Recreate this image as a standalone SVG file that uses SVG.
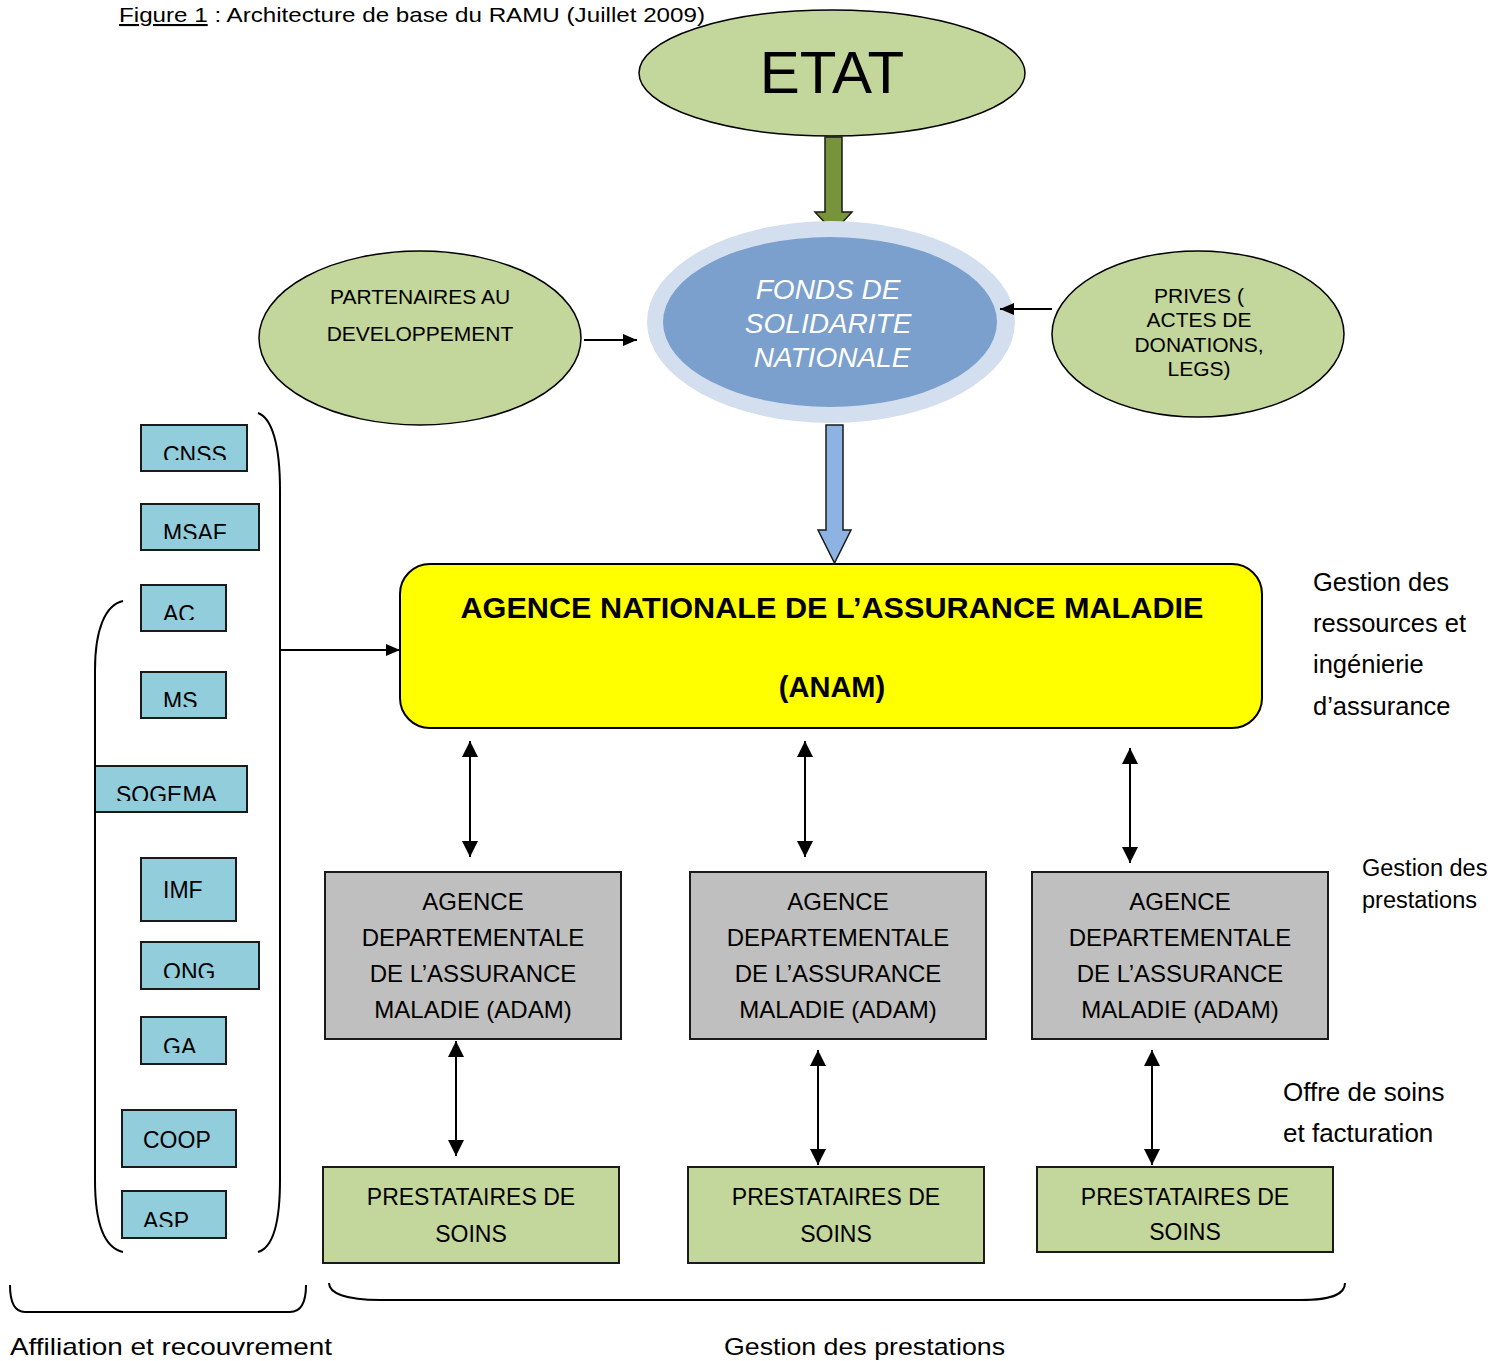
<svg xmlns="http://www.w3.org/2000/svg" width="1496" height="1361" viewBox="0 0 1496 1361">
<style>
.sans{font-family:"Liberation Sans",Arial,sans-serif;}
.lbl{font-family:"Liberation Sans",Arial,sans-serif;font-size:23px;fill:#000;}
.adl{font-family:"Liberation Sans",Arial,sans-serif;font-size:24px;fill:#000;}
.small{font-family:"Liberation Sans",Arial,sans-serif;font-size:21px;fill:#000;}
.box{fill:#92CDDC;stroke:#1a1a1a;stroke-width:2;}
.adam{fill:#BFBFBF;stroke:#1a1a1a;stroke-width:2;}
.prest{fill:#C3D69B;stroke:#1a1a1a;stroke-width:2;}
.ell{fill:#C3D69B;stroke:#000;stroke-width:1.5;}
.conn{fill:none;stroke:#000;stroke-width:2;}
.brace{fill:none;stroke:#000;stroke-width:2;}
</style>
<defs>
<marker id="ah" viewBox="0 0 16 16" refX="16" refY="8" markerWidth="16" markerHeight="16" markerUnits="userSpaceOnUse" orient="auto-start-reverse">
<path d="M0,0 L16,8 L0,16 z" fill="#000"/>
</marker>
<marker id="ahs" viewBox="0 0 14 12" refX="14" refY="6" markerWidth="14" markerHeight="12" markerUnits="userSpaceOnUse" orient="auto-start-reverse">
<path d="M0,0 L14,6 L0,12 z" fill="#000"/>
</marker>
<mask id="ringMask" maskUnits="userSpaceOnUse" x="0" y="0" width="1496" height="1361">
<rect x="0" y="0" width="1496" height="1361" fill="#fff"/>
<ellipse cx="831" cy="322" rx="184" ry="101" fill="#000"/>
</mask>
<clipPath id="cCNSS"><rect x="141" y="425" width="106" height="35"/></clipPath>
<clipPath id="cMSAF"><rect x="141" y="504" width="118" height="35"/></clipPath>
<clipPath id="cAC"><rect x="141" y="585" width="85" height="35"/></clipPath>
<clipPath id="cMS"><rect x="141" y="672" width="85" height="35"/></clipPath>
<clipPath id="cSOG"><rect x="95" y="766" width="152" height="35"/></clipPath>
<clipPath id="cONG"><rect x="141" y="942" width="118" height="36"/></clipPath>
<clipPath id="cGA"><rect x="141" y="1017" width="85" height="36"/></clipPath>
<clipPath id="cASP"><rect x="122" y="1191" width="104" height="36"/></clipPath>
</defs>
<rect width="1496" height="1361" fill="#fff"/>

<g id="title">
<text class="sans" x="119" y="22" font-size="21" textLength="586" lengthAdjust="spacingAndGlyphs"><tspan text-decoration="underline">Figure 1</tspan> : Architecture de base du RAMU (Juillet 2009)</text>
</g>

<g id="etat">
<ellipse class="ell" cx="832" cy="73" rx="193" ry="63"/>
<text class="sans" x="832" y="93" font-size="60" text-anchor="middle">ETAT</text>
</g>

<g id="fonds">
<ellipse cx="831" cy="322" rx="184" ry="101" fill="#D3DFEE"/>
<ellipse cx="830" cy="322" rx="167" ry="85" fill="#7BA0CD"/>
<text class="sans" font-size="28" font-style="italic" fill="#fff" text-anchor="middle">
<tspan x="832" y="299">FONDS DE</tspan>
<tspan x="832" y="333">SOLIDARITE</tspan>
<tspan x="832" y="367">NATIONALE</tspan>
</text>
</g>

<g id="partenaires">
<ellipse class="ell" cx="420" cy="338" rx="161" ry="87"/>
<text class="small" text-anchor="middle"><tspan x="420" y="304">PARTENAIRES AU</tspan><tspan x="420" y="341">DEVELOPPEMENT</tspan></text>
</g>

<g id="prives">
<ellipse class="ell" cx="1198" cy="334" rx="146" ry="83"/>
<text class="small" text-anchor="middle"><tspan x="1199" y="303">PRIVES (</tspan><tspan x="1199" y="327">ACTES DE</tspan><tspan x="1199" y="352">DONATIONS,</tspan><tspan x="1199" y="376">LEGS)</tspan></text>
</g>

<g id="anam">
<rect x="400" y="564" width="862" height="164" rx="30" ry="30" fill="#FFFF00" stroke="#000" stroke-width="2"/>
<text class="sans" x="832" y="618" font-size="29" font-weight="bold" text-anchor="middle" textLength="743" lengthAdjust="spacingAndGlyphs">AGENCE NATIONALE DE L’ASSURANCE MALADIE</text>
<text class="sans" x="832" y="697" font-size="29" font-weight="bold" text-anchor="middle">(ANAM)</text>
</g>

<g id="label-ressources">
<text class="sans" font-size="25.5"><tspan x="1313" y="591">Gestion des</tspan><tspan x="1313" y="632">ressources et</tspan><tspan x="1313" y="673">ingénierie</tspan><tspan x="1313" y="715">d’assurance</tspan></text>
</g>
<g id="label-gestion">
<text class="sans" font-size="23.5"><tspan x="1362" y="876">Gestion des</tspan><tspan x="1362" y="908">prestations</tspan></text>
</g>
<g id="label-offre">
<text class="sans" font-size="26"><tspan x="1283" y="1101">Offre de soins</tspan><tspan x="1283" y="1142">et facturation</tspan></text>
</g>

<g id="adam1">
<rect class="adam" x="325" y="872" width="296" height="167"/>
<text class="adl" text-anchor="middle"><tspan x="473" y="910">AGENCE</tspan><tspan x="473" y="946">DEPARTEMENTALE</tspan><tspan x="473" y="982">DE L’ASSURANCE</tspan><tspan x="473" y="1018">MALADIE (ADAM)</tspan></text>
</g>
<g id="adam2">
<rect class="adam" x="690" y="872" width="296" height="167"/>
<text class="adl" text-anchor="middle"><tspan x="838" y="910">AGENCE</tspan><tspan x="838" y="946">DEPARTEMENTALE</tspan><tspan x="838" y="982">DE L’ASSURANCE</tspan><tspan x="838" y="1018">MALADIE (ADAM)</tspan></text>
</g>
<g id="adam3">
<rect class="adam" x="1032" y="872" width="296" height="167"/>
<text class="adl" text-anchor="middle"><tspan x="1180" y="910">AGENCE</tspan><tspan x="1180" y="946">DEPARTEMENTALE</tspan><tspan x="1180" y="982">DE L’ASSURANCE</tspan><tspan x="1180" y="1018">MALADIE (ADAM)</tspan></text>
</g>

<g id="prest1">
<rect class="prest" x="323" y="1167" width="296" height="96"/>
<text class="lbl" text-anchor="middle"><tspan x="471" y="1205">PRESTATAIRES DE</tspan><tspan x="471" y="1242">SOINS</tspan></text>
</g>
<g id="prest2">
<rect class="prest" x="688" y="1167" width="296" height="96"/>
<text class="lbl" text-anchor="middle"><tspan x="836" y="1205">PRESTATAIRES DE</tspan><tspan x="836" y="1242">SOINS</tspan></text>
</g>
<g id="prest3">
<rect class="prest" x="1037" y="1167" width="296" height="85"/>
<text class="lbl" text-anchor="middle"><tspan x="1185" y="1205">PRESTATAIRES DE</tspan><tspan x="1185" y="1240">SOINS</tspan></text>
</g>

<g id="cnss"><rect class="box" x="141" y="425" width="106" height="46"/><text class="lbl" x="163" y="463" clip-path="url(#cCNSS)">CNSS</text></g>
<g id="msaf"><rect class="box" x="141" y="504" width="118" height="46"/><text class="lbl" x="163" y="541" clip-path="url(#cMSAF)">MSAF</text></g>
<g id="ac"><rect class="box" x="141" y="585" width="85" height="46"/><text class="lbl" x="163" y="622" clip-path="url(#cAC)">AC</text></g>
<g id="ms"><rect class="box" x="141" y="672" width="85" height="46"/><text class="lbl" x="163" y="709" clip-path="url(#cMS)">MS</text></g>
<g id="sogema"><rect class="box" x="95" y="766" width="152" height="46"/><text class="lbl" x="116" y="803" clip-path="url(#cSOG)">SOGEMA</text></g>
<g id="imf"><rect class="box" x="141" y="858" width="95" height="63"/><text class="lbl" x="163" y="898">IMF</text></g>
<g id="ong"><rect class="box" x="141" y="942" width="118" height="47"/><text class="lbl" x="163" y="980" clip-path="url(#cONG)">ONG</text></g>
<g id="ga"><rect class="box" x="141" y="1017" width="85" height="47"/><text class="lbl" x="163" y="1055" clip-path="url(#cGA)">GA</text></g>
<g id="coop"><rect class="box" x="122" y="1110" width="114" height="57"/><text class="lbl" x="143" y="1148">COOP</text></g>
<g id="asp"><rect class="box" x="122" y="1191" width="104" height="47"/><text class="lbl" x="143" y="1229" clip-path="url(#cASP)">ASP</text></g>

<g id="connectors">
<polygon points="825,137 842,137 842,212 852,212 833.5,232 815,212 825,212" fill="#77933C" stroke="#1a1a1a" stroke-width="1.5" mask="url(#ringMask)"/>
<polygon points="826,425 843,425 843,530 851,530 834.5,563 818,530 826,530" fill="#8DB3E2" stroke="#1a1a1a" stroke-width="1.5"/>
<line class="conn" x1="584" y1="340" x2="637" y2="340" marker-end="url(#ahs)"/>
<line class="conn" x1="1052" y1="309" x2="1000" y2="309" marker-end="url(#ahs)"/>
<line class="conn" x1="280" y1="650" x2="400" y2="650" marker-end="url(#ahs)"/>
<line class="conn" x1="470" y1="741" x2="470" y2="857" marker-start="url(#ah)" marker-end="url(#ah)"/>
<line class="conn" x1="805" y1="741" x2="805" y2="857" marker-start="url(#ah)" marker-end="url(#ah)"/>
<line class="conn" x1="1130" y1="748" x2="1130" y2="863" marker-start="url(#ah)" marker-end="url(#ah)"/>
<line class="conn" x1="456" y1="1041" x2="456" y2="1156" marker-start="url(#ah)" marker-end="url(#ah)"/>
<line class="conn" x1="818" y1="1050" x2="818" y2="1165" marker-start="url(#ah)" marker-end="url(#ah)"/>
<line class="conn" x1="1152" y1="1050" x2="1152" y2="1165" marker-start="url(#ah)" marker-end="url(#ah)"/>
</g>

<g id="braces">
<path class="brace" d="M258,413 C272,418 280,445 280,490 L280,1180 C280,1225 272,1248 258,1252"/>
<path class="brace" d="M123,601 C105,605 95,630 95,670 L95,1180 C95,1225 105,1248 123,1252"/>
<path class="brace" d="M10,1285 C10,1300 14,1312 25,1312 L290,1312 C302,1312 306,1300 306,1285"/>
<path class="brace" d="M329,1283 C329,1293 345,1300 380,1300 L1300,1300 C1335,1300 1345,1293 1345,1283"/>
</g>

<g id="bottom-labels">
<text class="sans" x="10" y="1355" font-size="24" textLength="322" lengthAdjust="spacingAndGlyphs">Affiliation et recouvrement</text>
<text class="sans" x="724" y="1355" font-size="24" textLength="281" lengthAdjust="spacingAndGlyphs">Gestion des prestations</text>
</g>
</svg>
